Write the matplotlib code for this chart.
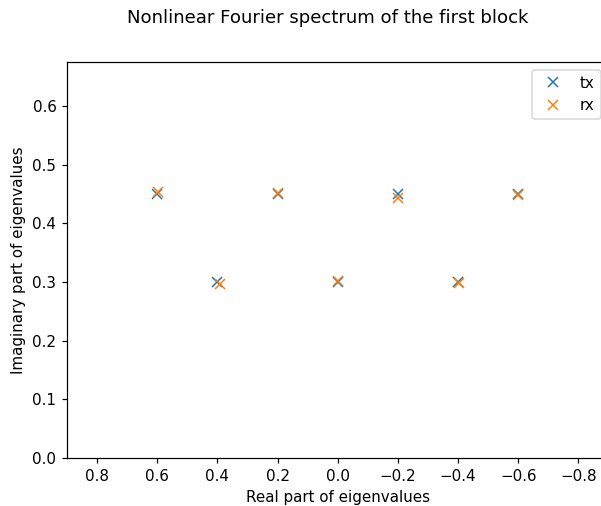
import matplotlib
matplotlib.use("Agg")
import matplotlib.pyplot as plt

tx_re = [0.6, 0.4, 0.2, 0.0, -0.2, -0.4, -0.6]
tx_im = [0.45, 0.30, 0.45, 0.30, 0.45, 0.30, 0.45]
rx_re = [0.598, 0.393, 0.197, -0.002, -0.200, -0.403, -0.598]
rx_im = [0.453, 0.296, 0.451, 0.302, 0.444, 0.298, 0.449]

W, H = 601, 506
DPI = 109
fig = plt.figure(figsize=(W / DPI, H / DPI), dpi=DPI)
ax = fig.add_axes([67 / W, (H - 458) / H, (608.5 - 67) / W, (458 - 62) / H])
ax.plot(tx_re, tx_im, "x", label="tx")
ax.plot(rx_re, rx_im, "x", label="rx")
ax.set_xlim(0.9, -0.9)
ax.set_ylim(0, 0.675)
ax.set_xticks([0.8, 0.6, 0.4, 0.2, 0.0, -0.2, -0.4, -0.6, -0.8])
ax.set_xlabel("Real part of eigenvalues")
ax.set_ylabel("Imaginary part of eigenvalues")
ax.legend(loc="upper right")
fig.suptitle("Nonlinear Fourier spectrum of the first block", x=327.5 / W, y=1 - 18 / H, va="center")
fig.savefig("out.png", dpi=DPI)
